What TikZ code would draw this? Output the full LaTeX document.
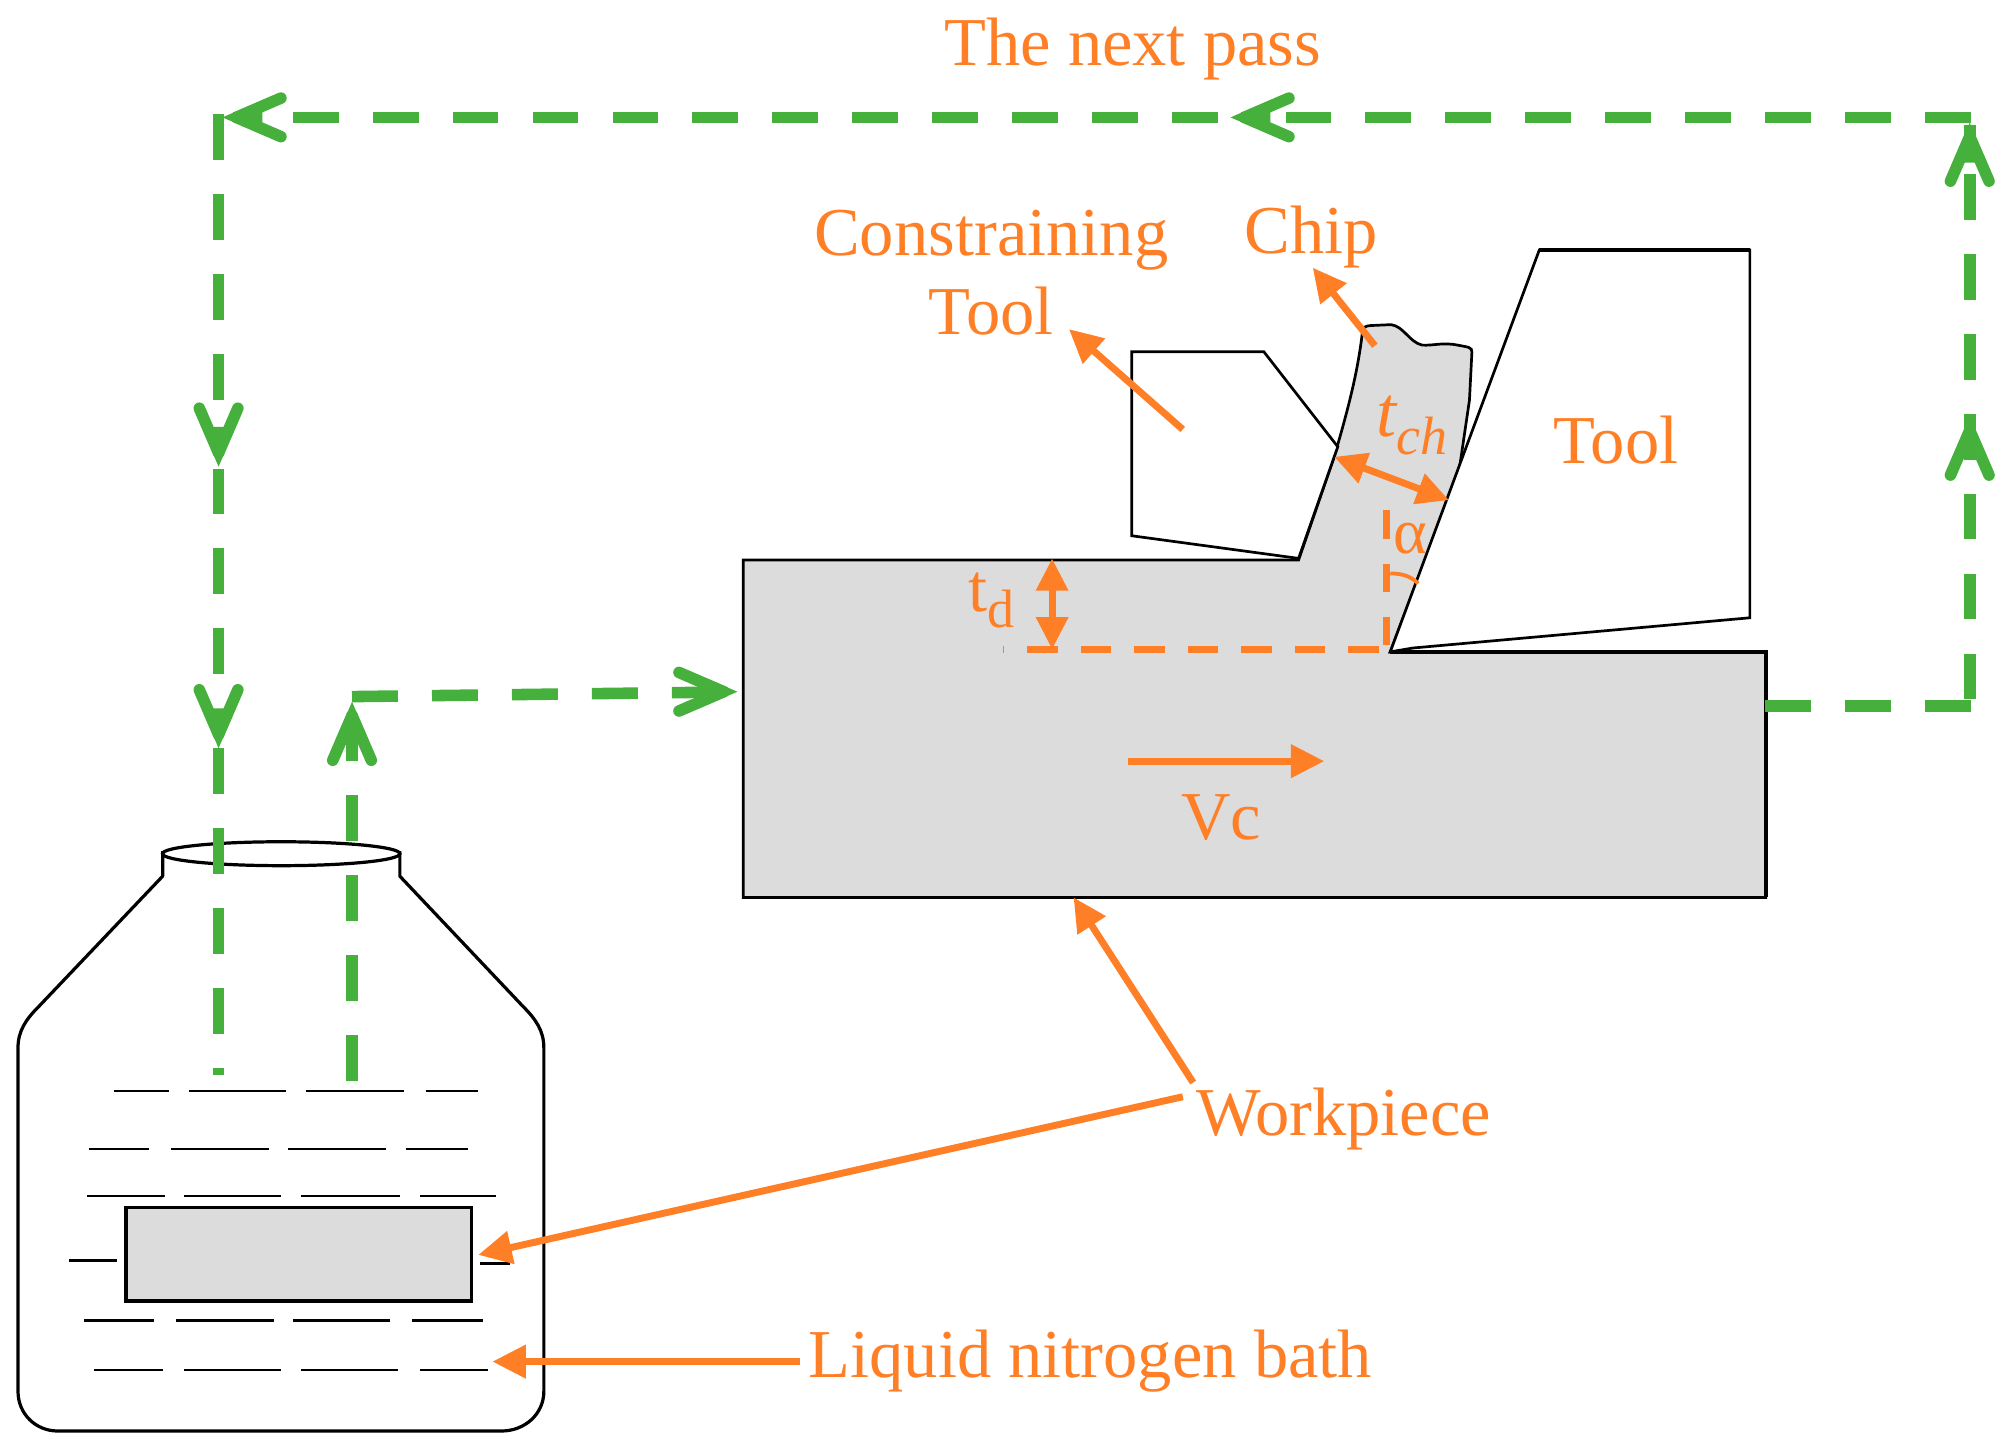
\documentclass[tikz,border=0pt]{standalone}
\usepackage{fontspec}
\setmainfont{Liberation Serif}
\usetikzlibrary{arrows.meta}
\definecolor{orng}{HTML}{FF7F27}
\definecolor{grn}{HTML}{45B03C}
\definecolor{wpgray}{HTML}{DCDCDC}
\tikzset{
  x=1pt,y=-1pt,
  lbl/.style={text=orng,inner sep=0pt,align=center,font=\fontsize{53.3}{62}\selectfont},
  oarrow/.style={draw=orng,line width=5.4pt,-{Triangle[length=26pt,width=25pt]}},
  odarrow/.style={draw=orng,line width=5.4pt,{Triangle[length=25pt,width=24pt]}-{Triangle[length=25pt,width=24pt]}},
  odash/.style={draw=orng,line width=5.5pt,dash pattern=on 23.7pt off 17.9pt},
  odashv/.style={draw=orng,line width=5.5pt,dash pattern=on 22pt off 19.3pt},
  gdash/.style={draw=grn,line width=9pt,dash pattern=on 35.7pt off 26.5pt},
  outline/.style={draw=black,line width=2.1pt,line join=miter},
  wave/.style={draw=black,line width=1.8pt},
  chev/.pic={
    \fill[grn] (0,0) -- (31,-13.3) -- (31,13.3) -- cycle;
    \draw[grn,line width=9pt,line cap=round] (10.8,0) -- (45.5,-15);
    \draw[grn,line width=9pt,line cap=round] (10.8,0) -- (45.5,15);
  }
}
\begin{document}
\begin{tikzpicture}
\useasboundingbox (0,0) rectangle (1568,1126.2);
% --- workpiece with chip
\path[fill=wpgray,draw=black,line width=2.1pt]
  (578,435.6) -- (1010,435.6) -- (1037.7,355.3) .. controls (1048,320) and (1056,290) .. (1059.5,259.3)
  .. controls (1060,254) and (1062,253.6) .. (1066,253.2) -- (1082,252.5)
  .. controls (1092,254) and (1096,266) .. (1106,268.4)
  .. controls (1115,269) and (1122,266) .. (1134,268.5)
  .. controls (1142,270) and (1145,270) .. (1144.8,274)
  -- (1142.9,311.2) -- (1135,365) -- (1127,386) -- (1081.3,507) -- (1373.3,507) -- (1373.3,698) -- (578,698) -- cycle;
\draw[black,line width=3.2pt] (1081.3,507) -- (1373.3,507) -- (1373.3,698);
% --- tools
\path[fill=white,outline] (1197.2,194.5) -- (1361,194.5) -- (1361,480.5) -- (1099,504) -- (1081.3,507) -- cycle;
\draw[black,line width=3pt] (1197.2,194.5) -- (1361,194.5);
\path[fill=white,outline] (880.2,273.6) -- (983,273.6) -- (1040.5,347.5) -- (1037.7,355.3) -- (1010,434.3) -- (880.2,416.7) -- cycle;
% --- bottle
\draw[black,line width=2.5pt,line join=round]
  (126.5,662) -- (126.5,681.5) -- (30,783) .. controls (20,793) and (14,802) .. (14,815)
  -- (14,1082) .. controls (14,1100) and (28,1113) .. (45,1113) -- (390,1113)
  .. controls (408,1113) and (423,1100) .. (423,1082) -- (423,815)
  .. controls (423,802) and (417,793) .. (407,783) -- (311,681.5) -- (311,662);
\draw[black,line width=2.5pt] (218.7,664) ellipse [x radius=92.3,y radius=9.3];
\foreach \yy/\a/\b in {
  848.6/88.7/131.5, 848.6/146.7/222.3, 848.6/238/314.6, 848.6/331/371.4,
  893.6/69.3/116, 893.6/133/209, 893.6/224/300, 893.6/315.5/363.7,
  930/68/128, 930/143/218.7, 930/234/311, 930/326.8/385.4,
  980.4/54/90.8, 982.6/373.5/397,
  1027/65.5/119.6, 1027/137/212.8, 1027/228/303.6, 1027/320.8/375.6,
  1065.5/73/126.5, 1065.5/143/218.7, 1065.5/234/309.5, 1065.5/326.8/379.4}
  {\draw[wave] (\a,\yy) -- (\b,\yy);}
\path[fill=wpgray,draw=black,line width=2.6pt] (98,939) rectangle (366.6,1012);
% --- named points
\coordinate (pwr) at (1372.5,549.2);
\coordinate (pbr) at (1533,549.2);
\coordinate (pvb) at (1532,544);
\coordinate (pvt) at (1532,97);
\coordinate (ptr) at (1533,91.3);
\coordinate (ptm) at (1000,91.3);
\coordinate (ptm2) at (947.8,91.3);
\coordinate (ptl) at (227.6,91.3);
\coordinate (pl0) at (170,88.7);
\coordinate (pl1) at (170,340);
\coordinate (pl2) at (170,364.4);
\coordinate (pl3) at (170,524.4);
\coordinate (pl4) at (170,581.8);
\coordinate (pl5) at (170,836);
\coordinate (pr0) at (273.8,840.5);
\coordinate (pr1) at (273.8,541.8);
\coordinate (pr2) at (560,538.3);
% --- green passes
\draw[gdash] (pwr) -- (pbr);
\draw[gdash] (pvb) -- (pvt);
\draw[gdash] (ptr) -- (ptm);
\draw[gdash] (ptl) -- (ptm2);
\draw[gdash] (pl0) -- (pl1);
\draw[gdash] (pl2) -- (pl3);
\draw[gdash] (pl4) -- (pl5);
\draw[gdash] (pr0) -- (pr1);
\draw[gdash] (pr1) -- (pr2);
\pic[rotate=-90] at (1532,95.4) {chev};
\pic[rotate=-90] at (1532,324) {chev};
\pic at (957,91.3) {chev};
\pic at (173,91.3) {chev};
\pic[rotate=90] at (170,363) {chev};
\pic[rotate=90] at (170,582) {chev};
\pic[rotate=-90] at (273.8,545.8) {chev};
\pic[rotate=180] at (573.6,538) {chev};
% --- orange dimension lines
\coordinate (dh0) at (1072.2,505);
\coordinate (dh1) at (780,505);
\coordinate (dv0) at (1078.6,397);
\coordinate (dv1) at (1078.6,505);
\draw[odash] (dh0) -- (dh1);
\draw[odashv] (dv0) -- (dv1);
\coordinate (a0) at (1081.3,446);
\coordinate (a1) at (1103,453.8);
\draw[orng,line width=3pt] (a0) .. controls (1092,446) and (1098,449) .. (a1);
% --- labels
\node[lbl] (next) at (881,38) {The next pass};
\node[lbl] (ctool) at (771,212) {Constraining\\Tool};
\node[lbl] (chip) at (1020,184) {Chip};
\node[lbl] (tool) at (1257,342) {Tool};
\node[lbl] (vc) at (950,636) {Vc};
\node[lbl] (wp) at (1045,870) {Workpiece};
\node[lbl] (bath) at (848,1059) {Liquid nitrogen bath};
\node[lbl] (td) at (771,467) {t\raisebox{-0.24em}{\fontsize{42}{42}\selectfont d}};
\node[lbl] (tch) at (1098,331) {\itshape\fontsize{56}{56}\selectfont t\raisebox{-0.24em}{\fontsize{42}{42}\selectfont ch}};
\node[lbl,font=\fontsize{50}{50}\selectfont] (alpha) at (1097,419) {α};
% --- orange arrows
\coordinate (c0) at (919.9,334);
\coordinate (c1) at (831.4,256);
\coordinate (h0) at (1069.4,268.9);
\coordinate (h1) at (1021,208.2);
\coordinate (t0) at (1037.7,355.3);
\coordinate (t1) at (1127,389);
\coordinate (d0) at (818.3,434.4);
\coordinate (d1) at (818.3,505);
\coordinate (v0) at (877,592);
\coordinate (v1) at (1030,592);
\coordinate (w0) at (928,842);
\coordinate (w1) at (835,698);
\coordinate (w2) at (920,853);
\coordinate (w3) at (372,976);
\coordinate (b0) at (622,1059);
\coordinate (b1) at (383,1059);
\draw[oarrow] (c0) -- (c1);
\draw[oarrow] (h0) -- (h1);
\draw[odarrow] (t0) -- (t1);
\draw[odarrow] (d0) -- (d1);
\draw[oarrow] (v0) -- (v1);
\draw[oarrow] (w0) -- (w1);
\draw[oarrow] (w2) -- (w3);
\draw[oarrow] (b0) -- (b1);
\end{tikzpicture}
\end{document}
